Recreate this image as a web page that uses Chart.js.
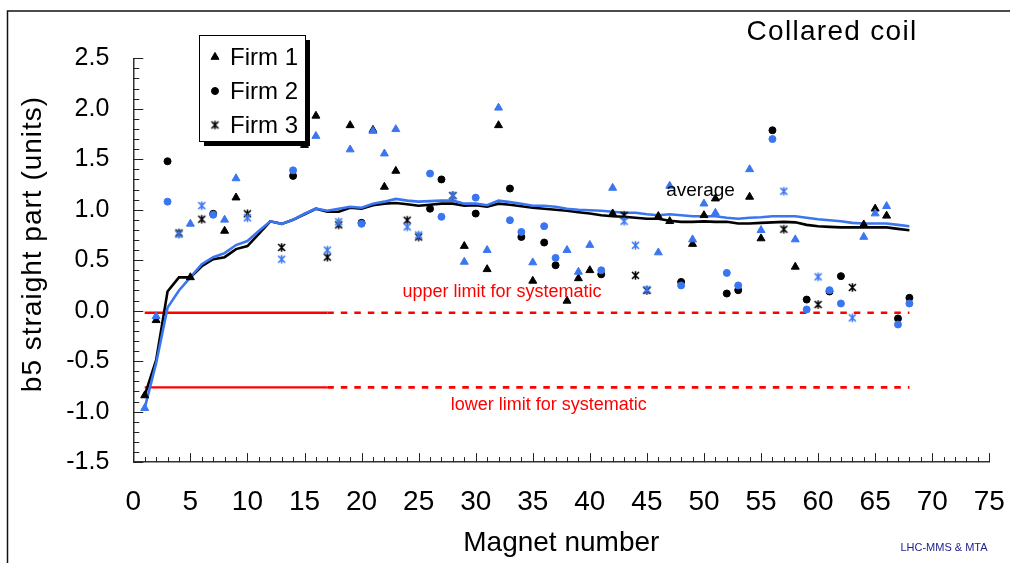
<!DOCTYPE html>
<html>
<head>
<meta charset="utf-8">
<title>b5 straight part – Collared coil</title>
<script src="https://cdn.jsdelivr.net/npm/chart.js@4/dist/chart.umd.min.js"></script>
<style>
  html, body { margin: 0; padding: 0; background: #fff; }
  #wrap { position: relative; width: 1010px; height: 563px; }
  canvas { display: block; }
</style>
</head>
<body>
<div id="wrap"><canvas id="chart" width="1010" height="563"></canvas></div>
<script>
// ---- data ----------------------------------------------------------------
// magnet numbers used for the running averages
const avgMagnets = [1,2,3,4,5,6,7,8,9,10,11,12,13,14,15,16,17,18,19,20,
  21,22,23,24,25,26,27,28,29,30,31,32,33,34,35,36,37,38,39,40,
  41,42,43,44,45,46,47,48,49,50,51,52,53,54,55,56,57,58,59,60,
  61,62,63,64,65,66,67,68];
const avgBlack = [-0.84,-0.49,0.19,0.33,0.33,0.44,0.51,0.53,0.61,0.64,
  0.76,0.885,0.86,0.90,0.955,1.01,0.98,0.98,1.02,1.01,
  1.045,1.06,1.067,1.054,1.04,1.05,1.06,1.06,1.04,1.045,
  1.03,1.06,1.05,1.035,1.02,1.01,1.0,0.99,0.975,0.962,
  0.945,0.936,0.93,0.92,0.91,0.91,0.89,0.88,0.88,0.885,
  0.88,0.88,0.863,0.863,0.87,0.875,0.88,0.875,0.85,0.837,
  0.83,0.825,0.825,0.825,0.825,0.825,0.81,0.797];
const avgBlue = [-0.965,-0.52,0.03,0.2,0.33,0.46,0.53,0.57,0.65,0.69,
  0.79,0.885,0.86,0.90,0.96,1.01,0.99,1.01,1.03,1.02,
  1.06,1.08,1.107,1.09,1.08,1.085,1.09,1.09,1.06,1.06,
  1.045,1.09,1.075,1.06,1.04,1.04,1.03,1.01,1.0,0.995,
  0.99,0.98,0.97,0.97,0.955,0.945,0.955,0.945,0.936,0.936,
  0.936,0.92,0.91,0.92,0.925,0.935,0.935,0.935,0.92,0.906,
  0.896,0.886,0.87,0.863,0.863,0.863,0.85,0.837];

// Firm 1 (triangles)
const firm1Magnets = [1,2,5,8,9,15,16,19,21,22,23,29,31,32,35,38,39,40,42,46,47,49,50,51,54,55,58,64,65,66];
const firm1Black = [-0.84,-0.095,0.33,0.79,1.12,1.64,1.93,1.836,1.79,1.226,1.384,0.64,0.41,1.836,0.295,0.097,0.32,0.40,0.962,0.936,0.886,0.66,0.945,1.11,1.127,0.715,0.434,0.853,1.01,0.94];
const firm1Blue  = [-0.965,-0.055,0.86,0.90,1.31,null,1.73,1.596,1.78,1.556,1.797,0.483,0.60,2.01,0.477,0.60,0.384,0.65,1.216,0.576,1.236,0.705,1.06,0.968,1.40,0.797,0.705,0.73,0.962,1.035];

// Firm 2 (circles)
const firm2Magnets = [3,7,14,20,26,27,30,33,34,36,37,41,48,52,53,56,59,61,62,67,68];
const firm2Black = [1.48,0.96,1.335,0.87,1.01,1.30,0.962,1.21,0.73,0.675,0.45,0.36,0.285,0.17,0.203,1.787,0.11,0.19,0.342,-0.077,0.127];
const firm2Blue  = [1.08,0.95,1.39,0.86,1.358,0.93,1.12,0.896,0.78,0.837,0.523,0.40,0.25,0.374,0.25,1.70,0.012,0.203,0.071,-0.137,0.071];

// Firm 3 (stars)
const firm3Magnets = [4,6,10,13,17,18,24,25,28,43,44,45,57,60,63];
const firm3Black = [0.77,0.906,0.96,0.626,0.53,0.85,0.896,0.73,1.14,0.945,0.35,0.20,0.807,0.061,0.23];
const firm3Blue  = [0.757,1.04,0.92,0.51,0.60,0.88,0.83,0.75,1.14,0.886,0.648,0.21,1.183,0.335,-0.071];

// systematic limits
const upperLimit = -0.02;
const lowerLimit = -0.76;
const limitSolidSpan = [1, 17];
const limitDottedSpan = [17, 68];

// axes
const xTicks = [0,5,10,15,20,25,30,35,40,45,50,55,60,65,70,75];
const yTicks = [-1.5,-1.0,-0.5,0.0,0.5,1.0,1.5,2.0,2.5];
const legendLabels = ['Firm 1','Firm 2','Firm 3'];

// ---- styling ---------------------------------------------------------------
const FONT = "'Liberation Sans', Arial, Helvetica, sans-serif";
const BLACK = '#000000';
const BLUE = 'rgb(58,118,240)';
const RED = '#ff0000';
const TRI_R = 4.6;
const DOT_R = 3.5;

function pairs(xs, ys) {
  return xs.map((x, i) => ({ x: x, y: ys[i] }));
}

// six-armed asterisk marker (an X crossed by a vertical stroke)
function asterisk(color) {
  const c = document.createElement('canvas');
  c.width = 11; c.height = 11;
  const g = c.getContext('2d');
  g.strokeStyle = color;
  g.lineWidth = 1.6;
  g.lineCap = 'butt';
  g.beginPath();
  g.moveTo(5.5, 1.2); g.lineTo(5.5, 9.8);
  g.moveTo(2.0, 2.0); g.lineTo(9.0, 9.0);
  g.moveTo(9.0, 2.0); g.lineTo(2.0, 9.0);
  g.stroke();
  return c;
}
const starBlack = asterisk(BLACK);
const starBlue = asterisk(BLUE);

function pointSet(label, xs, ys, color, style, order) {
  const isImg = typeof style !== 'string';
  return {
    label: label,
    data: pairs(xs, ys),
    showLine: false,
    pointStyle: style,
    pointRadius: style === 'triangle' ? TRI_R : DOT_R,
    pointBorderWidth: isImg ? 0 : 1,
    backgroundColor: color,
    borderColor: color,
    order: order
  };
}

function lineSet(label, data, color, width, dash, order) {
  return {
    label: label,
    data: data,
    showLine: true,
    borderColor: color,
    borderWidth: width,
    borderDash: dash,
    pointRadius: 0,
    tension: 0,
    fill: false,
    order: order
  };
}

const datasets = [
  pointSet('Firm 1', firm1Magnets, firm1Blue, BLUE, 'triangle', 1),
  pointSet('Firm 2', firm2Magnets, firm2Blue, BLUE, 'circle', 1),
  pointSet('Firm 3', firm3Magnets, firm3Blue, BLUE, starBlue, 1),
  pointSet('Firm 1', firm1Magnets, firm1Black, BLACK, 'triangle', 2),
  pointSet('Firm 2', firm2Magnets, firm2Black, BLACK, 'circle', 2),
  pointSet('Firm 3', firm3Magnets, firm3Black, BLACK, starBlack, 2),
  lineSet('average', pairs(avgMagnets, avgBlue), BLUE, 2.6, [], 3),
  lineSet('average', pairs(avgMagnets, avgBlack), BLACK, 2.6, [], 4),
  lineSet('upper', limitSolidSpan.map(x => ({ x: x, y: upperLimit })), RED, 2.4, [], 5),
  lineSet('upper', limitDottedSpan.map(x => ({ x: x, y: upperLimit })), RED, 2.6, [6.5, 7], 5),
  lineSet('lower', limitSolidSpan.map(x => ({ x: x, y: lowerLimit })), RED, 2.4, [], 5),
  lineSet('lower', limitDottedSpan.map(x => ({ x: x, y: lowerLimit })), RED, 2.6, [6.5, 7], 5)
];

// inward tick marks (major + minor) on both axes
const innerTicks = {
  id: 'innerTicks',
  afterDatasetsDraw(chart) {
    const ctx = chart.ctx;
    const xs = chart.scales.x, ys = chart.scales.y;
    const a = chart.chartArea;
    ctx.save();
    ctx.strokeStyle = '#222';
    ctx.lineWidth = 1;
    ctx.beginPath();
    for (let v = xs.min; v <= xs.max + 1e-9; v += 1) {
      const px = Math.round(xs.getPixelForValue(v)) + 0.5;
      const len = (Math.round(v) % 5 === 0) ? 9 : 5;
      ctx.moveTo(px, a.bottom); ctx.lineTo(px, a.bottom - len);
    }
    for (let k = 0; k <= Math.round((ys.max - ys.min) * 10); k++) {
      const v = ys.min + k / 10;
      const py = Math.round(ys.getPixelForValue(v)) + 0.5;
      const len = (k % 5 === 0) ? 10 : 6;
      ctx.moveTo(a.left, py); ctx.lineTo(a.left + len, py);
    }
    ctx.stroke();
    ctx.restore();
  }
};

// titles, annotations, legend box and page frame
const decorations = {
  id: 'decorations',
  afterDraw(chart) {
    const ctx = chart.ctx;
    const xs = chart.scales.x, ys = chart.scales.y;
    ctx.save();

    // page frame (left and top rules)
    ctx.strokeStyle = '#111';
    ctx.lineWidth = 1.5;
    ctx.beginPath();
    ctx.moveTo(7.5, 563); ctx.lineTo(7.5, 11); ctx.lineTo(1010, 11);
    ctx.stroke();

    ctx.textAlign = 'center';
    ctx.textBaseline = 'middle';

    // axis titles
    ctx.fillStyle = BLACK;
    ctx.font = '28px ' + FONT;
    ctx.fillText('Magnet number', (xs.left + xs.right) / 2, 543);
    ctx.save();
    ctx.translate(33, 244);
    ctx.rotate(-Math.PI / 2);
    ctx.letterSpacing = '1px';
    ctx.fillText('b5 straight part (units)', 0, 0);
    ctx.restore();

    // chart title
    ctx.save();
    ctx.letterSpacing = '1.3px';
    ctx.font = '28px ' + FONT;
    ctx.fillText('Collared coil', 832, 32);
    ctx.restore();

    // annotations placed in data coordinates
    ctx.fillStyle = RED;
    ctx.font = '18px ' + FONT;
    ctx.fillText('upper limit for systematic', xs.getPixelForValue(32.3), ys.getPixelForValue(0.185));
    ctx.fillText('lower limit for systematic', xs.getPixelForValue(36.4), ys.getPixelForValue(-0.93));
    ctx.fillStyle = BLACK;
    ctx.font = '19px ' + FONT;
    ctx.fillText('average', xs.getPixelForValue(49.7), ys.getPixelForValue(1.19));

    // credit line
    ctx.fillStyle = '#1c1c8c';
    ctx.font = '11px ' + FONT;
    ctx.fillText('LHC-MMS & MTA', 944, 548);

    // legend box with drop shadow
    const bx = 199, by = 35, bw = 106, bh = 106;
    ctx.fillStyle = '#000';
    ctx.fillRect(bx + 5, by + 5, bw, bh);
    ctx.fillStyle = '#fff';
    ctx.fillRect(bx, by, bw, bh);
    ctx.strokeStyle = '#000';
    ctx.lineWidth = 1;
    ctx.strokeRect(bx + 0.5, by + 0.5, bw, bh);

    const styles = ['triangle', 'circle', starBlack];
    const rowsY = [57, 91, 125];
    ctx.font = '24px ' + FONT;
    ctx.textAlign = 'left';
    legendLabels.forEach((lab, i) => {
      ctx.fillStyle = BLACK;
      ctx.strokeStyle = BLACK;
      Chart.helpers.drawPoint(ctx, {
        pointStyle: styles[i],
        radius: i === 0 ? TRI_R : DOT_R,
        borderWidth: typeof styles[i] === 'string' ? 1 : 0
      }, 215, rowsY[i]);
      ctx.fillStyle = BLACK;
      ctx.fillText(lab, 230, rowsY[i] + 1);
    });

    ctx.restore();
  }
};

new Chart(document.getElementById('chart'), {
  type: 'scatter',
  data: { datasets: datasets },
  options: {
    responsive: false,
    animation: false,
    events: [],
    layout: { padding: { left: 0, right: 20.7, top: 58.3, bottom: 0 } },
    plugins: { legend: { display: false }, tooltip: { enabled: false } },
    scales: {
      x: {
        type: 'linear',
        min: 0, max: 75,
        afterBuildTicks: s => { s.ticks = xTicks.map(v => ({ value: v })); },
        afterFit: s => { s.height = 100.9; s.paddingLeft = 0; s.paddingRight = 0; },
        grid: { display: false, drawTicks: false },
        border: { display: true, color: '#333', width: 1.5 },
        ticks: { color: BLACK, font: { family: FONT, size: 28 }, padding: 23, maxRotation: 0, autoSkip: false }
      },
      y: {
        type: 'linear',
        min: -1.5, max: 2.5,
        afterBuildTicks: s => { s.ticks = yTicks.map(v => ({ value: v })); },
        afterFit: s => { s.width = 133.3; s.paddingTop = 0; s.paddingBottom = 0; },
        grid: { display: false, drawTicks: false },
        border: { display: true, color: '#333', width: 1.5 },
        ticks: { color: BLACK, font: { family: FONT, size: 25 }, padding: 24, autoSkip: false,
                 callback: v => Number(v).toFixed(1) }
      }
    }
  },
  plugins: [innerTicks, decorations]
});
</script>
</body>
</html>
